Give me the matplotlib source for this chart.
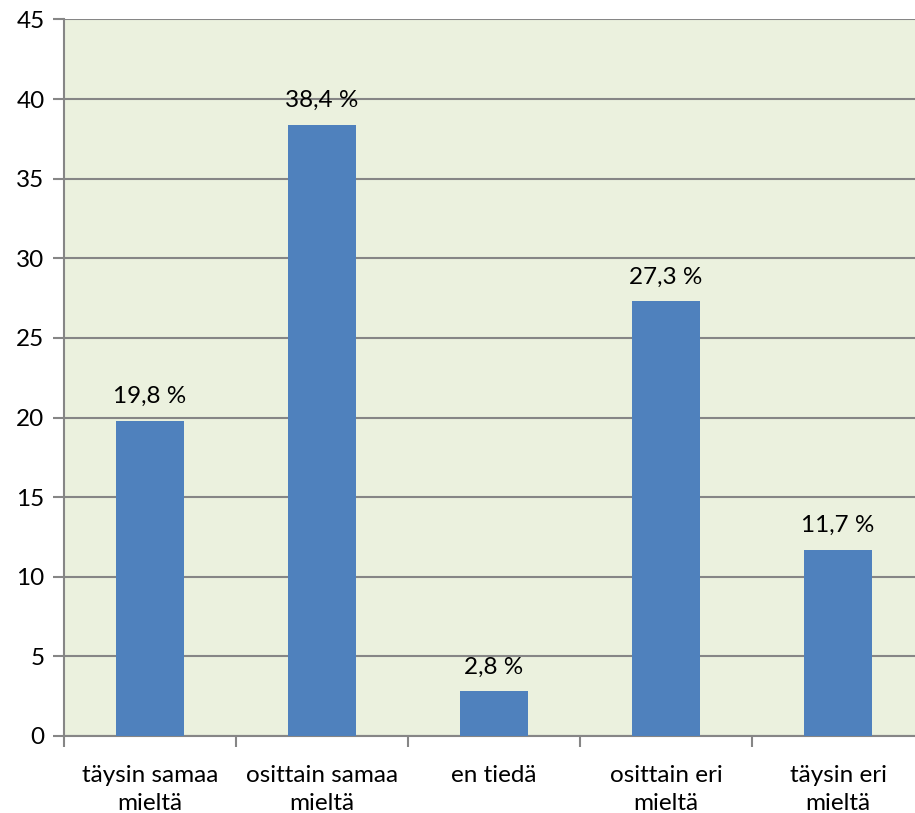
import matplotlib
matplotlib.use("Agg")
import matplotlib.pyplot as plt

categories = ["täysin samaa\nmieltä", "osittain samaa\nmieltä", "en tiedä", "osittain eri\nmieltä", "täysin eri\nmieltä"]
values = [19.8, 38.4, 2.8, 27.3, 11.7]
labels = ["19,8 %", "38,4 %", "2,8 %", "27,3 %", "11,7 %"]
yticks = [0, 5, 10, 15, 20, 25, 30, 35, 40, 45]

plt.rcParams['font.family'] = ['Lato', 'DejaVu Sans']

W, H = 915, 813
fig = plt.figure(figsize=(W/100, H/100), dpi=100)
left, right, top, bottom = 64, 924, 19.5, 736
ax = fig.add_axes([left/W, 1-bottom/H, (right-left)/W, (bottom-top)/H])
ax.set_facecolor("#EBF1DE")

FS = 17.5
x = list(range(len(values)))
bars = ax.bar(x, values, width=0.4, color="#4F81BD", zorder=3)
for xi, v, lab in zip(x, values, labels):
    ax.annotate(lab, (xi, v), xytext=(0, 10), textcoords="offset points",
                ha="center", va="bottom", fontsize=FS, color="black")

ax.set_xlim(-0.5, len(values)-0.5)
ax.set_ylim(0, 45)
ax.set_yticks(yticks)
ax.set_yticklabels([str(t) for t in yticks], fontsize=FS)
ax.yaxis.grid(True, color="#868686", linewidth=1.5, zorder=0)
ax.set_axisbelow(True)

ax.set_xticks(x)
ax.set_xticklabels(categories, fontsize=FS, linespacing=1.4)
ax.tick_params(axis="x", length=0, pad=21)
ax.set_xticks([i - 0.5 for i in range(len(values)+1)], minor=True)
ax.tick_params(axis="x", which="minor", length=8, width=1.5, color="#868686")
ax.tick_params(axis="y", length=8, width=1.5, color="#868686", pad=6)

for s in ["top", "right"]:
    ax.spines[s].set_visible(False)
for s in ["left", "bottom"]:
    ax.spines[s].set_color("#868686")
    ax.spines[s].set_linewidth(1.5)

fig.savefig("out.png", dpi=100)
